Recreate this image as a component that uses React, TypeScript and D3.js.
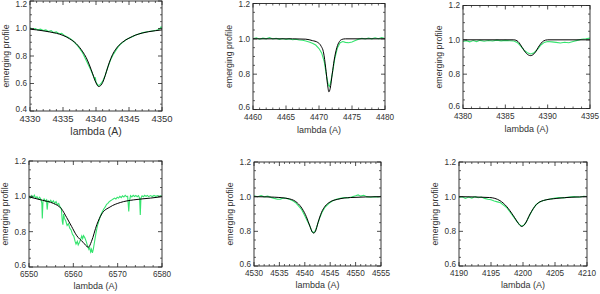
import React from 'react';
import * as d3 from 'd3';

// six line profiles: observed spectrum (green) and model (black)
const hgObs: [number, number][] = [
  [4330, 1.005], [4330.4, 0.995], [4330.8, 1.0], [4331.2, 0.99], [4331.6, 0.995], [4332, 0.985], [4332.4, 0.99],
  [4332.8, 0.978], [4333.2, 0.985], [4333.6, 0.97], [4334, 0.975], [4334.4, 0.962], [4334.8, 0.965], [4335.2, 0.95],
  [4335.6, 0.94], [4336, 0.93], [4336.4, 0.915], [4336.8, 0.895], [4337.2, 0.875], [4337.6, 0.85], [4338, 0.82],
  [4338.4, 0.78], [4338.8, 0.74], [4339.2, 0.7], [4339.6, 0.655], [4339.8, 0.63], [4339.9, 0.645], [4340, 0.61],
  [4340.3, 0.585], [4340.6, 0.59], [4341, 0.615], [4341.4, 0.66], [4341.8, 0.72], [4342.2, 0.77], [4342.6, 0.81],
  [4343, 0.84], [4343.4, 0.87], [4343.8, 0.89], [4344.2, 0.905], [4344.6, 0.92], [4345, 0.93], [4345.5, 0.94],
  [4346, 0.952], [4346.5, 0.96], [4347, 0.968], [4347.5, 0.975], [4348, 0.978], [4348.5, 0.982], [4349, 0.985],
  [4349.4, 0.99], [4349.7, 1.0], [4349.85, 1.012], [4350, 0.995],
];
const hgModel: [number, number][] = [
  [4330, 0.995], [4331, 0.99], [4332, 0.983], [4333, 0.975], [4334, 0.965], [4335, 0.95], [4336, 0.925],
  [4337, 0.89], [4338, 0.83], [4338.5, 0.79], [4339, 0.735], [4339.5, 0.67], [4340, 0.605], [4340.4, 0.578],
  [4340.8, 0.59], [4341.2, 0.63], [4341.6, 0.69], [4342, 0.75], [4342.5, 0.81], [4343, 0.85], [4344, 0.9],
  [4345, 0.93], [4346, 0.952], [4347, 0.967], [4348, 0.977], [4349, 0.984], [4350, 0.99],
];

const he4471Obs: [number, number][] = [
  [4460, 1.0], [4460.5, 1.006], [4461, 0.998], [4461.5, 1.004], [4462, 1.0], [4462.5, 1.007], [4463, 0.999],
  [4463.5, 1.003], [4464, 0.997], [4464.5, 1.002], [4465, 0.996], [4465.5, 1.001], [4466, 0.995], [4466.5, 0.998],
  [4467, 0.993], [4467.5, 0.992], [4468, 0.988], [4468.5, 0.982], [4469, 0.975], [4469.5, 0.965], [4470, 0.945],
  [4470.4, 0.92], [4470.8, 0.87], [4471.1, 0.8], [4471.4, 0.74], [4471.6, 0.73], [4471.8, 0.76], [4472.1, 0.82],
  [4472.4, 0.89], [4472.8, 0.95], [4473.2, 0.978], [4473.6, 0.985], [4474, 0.98], [4474.5, 0.978], [4475, 0.982],
  [4475.5, 0.99], [4476, 0.998], [4476.5, 1.003], [4477, 0.999], [4477.5, 1.005], [4478, 1.0], [4478.5, 1.006],
  [4479, 1.001], [4479.5, 1.007], [4480, 1.002],
];
const he4471Model: [number, number][] = [
  [4460, 1.0], [4466, 1.0], [4468, 0.998], [4469, 0.99], [4469.8, 0.98], [4470.3, 0.96], [4470.7, 0.92],
  [4471, 0.84], [4471.3, 0.74], [4471.5, 0.7], [4471.7, 0.72], [4472, 0.8], [4472.3, 0.88], [4472.7, 0.95],
  [4473.1, 0.985], [4473.5, 0.997], [4474, 1.0], [4480, 1.0],
];

const he4388Obs: [number, number][] = [
  [4380, 0.99], [4380.4, 0.995], [4380.8, 0.988], [4381.2, 0.996], [4381.6, 0.99], [4382, 0.997], [4382.5, 0.992],
  [4383, 0.996], [4383.5, 0.993], [4384, 0.998], [4384.5, 0.994], [4385, 0.997], [4385.5, 0.995], [4386, 0.993],
  [4386.4, 0.985], [4386.8, 0.965], [4387.2, 0.94], [4387.6, 0.925], [4388, 0.918], [4388.4, 0.925], [4388.8, 0.945],
  [4389.2, 0.97], [4389.6, 0.985], [4390, 0.99], [4390.5, 0.988], [4391, 0.985], [4391.5, 0.982], [4392, 0.986],
  [4392.5, 0.983], [4393, 0.99], [4393.5, 0.997], [4394, 1.003], [4394.5, 1.006], [4395, 1.01],
];
const he4388Model: [number, number][] = [
  [4380, 1.0], [4386, 1.0], [4386.5, 0.99], [4387, 0.955], [4387.5, 0.92], [4388, 0.908], [4388.5, 0.925],
  [4389, 0.965], [4389.5, 0.993], [4390, 1.0], [4395, 1.0],
];

const haObs: [number, number][] = [
  [6550, 1.0], [6550.3, 0.99], [6550.6, 1.004], [6550.9, 0.993], [6551.2, 1.006], [6551.5, 0.99], [6551.8, 0.998],
  [6552.1, 0.985], [6552.4, 0.995], [6552.7, 0.982], [6552.9, 0.96], [6553, 0.875], [6553.15, 0.97], [6553.4, 0.985],
  [6553.7, 0.972], [6553.95, 0.98], [6554.1, 0.925], [6554.3, 0.975], [6554.6, 0.968], [6554.9, 0.978],
  [6555.2, 0.965], [6555.5, 0.975], [6555.8, 0.96], [6556.1, 0.97], [6556.4, 0.952], [6556.7, 0.96], [6557, 0.94],
  [6557.3, 0.93], [6557.5, 0.86], [6557.65, 0.84], [6557.8, 0.9], [6558, 0.875], [6558.3, 0.86], [6558.6, 0.835],
  [6558.9, 0.845], [6559.2, 0.82], [6559.5, 0.81], [6559.8, 0.785], [6560.1, 0.775], [6560.4, 0.745],
  [6560.6, 0.73], [6560.9, 0.745], [6561.1, 0.725], [6561.4, 0.74], [6561.7, 0.76], [6561.9, 0.775],
  [6562.1, 0.76], [6562.3, 0.778], [6562.6, 0.765], [6562.9, 0.745], [6563.2, 0.72], [6563.5, 0.7],
  [6563.7, 0.71], [6563.9, 0.685], [6564.1, 0.7], [6564.3, 0.68], [6564.5, 0.7], [6564.7, 0.73], [6564.9, 0.76],
  [6565.1, 0.79], [6565.4, 0.83], [6565.7, 0.855], [6566, 0.88], [6566.3, 0.9], [6566.6, 0.915], [6566.9, 0.93],
  [6567.2, 0.94], [6567.5, 0.955], [6567.8, 0.96], [6568.1, 0.97], [6568.4, 0.975], [6568.7, 0.98],
  [6569, 0.985], [6569.3, 0.99], [6569.6, 0.985], [6569.9, 0.995], [6570.2, 0.99], [6570.5, 1.0],
  [6570.8, 0.993], [6571.1, 1.003], [6571.4, 0.996], [6571.7, 1.006], [6572, 0.998], [6572.25, 1.0],
  [6572.4, 0.95], [6572.5, 0.915], [6572.65, 0.97], [6572.9, 1.004], [6573.2, 0.997], [6573.5, 1.006],
  [6573.8, 0.999], [6574.1, 1.005], [6574.4, 0.998], [6574.7, 1.004], [6574.95, 0.99], [6575.1, 0.895],
  [6575.25, 0.99], [6575.5, 1.003], [6575.8, 0.998], [6576.1, 1.006], [6576.4, 1.0], [6576.7, 1.005],
  [6577, 0.998], [6577.4, 1.004], [6577.8, 0.999], [6578.2, 1.005], [6578.6, 1.0], [6579, 1.004],
  [6579.4, 0.999], [6579.7, 1.003], [6580, 1.0],
];
const haModel: [number, number][] = [
  [6550, 0.997], [6553, 0.978], [6555.5, 0.96], [6557.3, 0.93], [6558.5, 0.88], [6559.6, 0.83], [6560.7, 0.78],
  [6562.2, 0.74], [6563.4, 0.712], [6564.1, 0.745], [6565.3, 0.84], [6566.4, 0.9], [6568.3, 0.94], [6570.6, 0.965],
  [6573.6, 0.98], [6577.4, 0.99], [6580, 0.998],
];

const he4541Obs: [number, number][] = [
  [4530, 1.005], [4530.7, 1.0], [4531.4, 1.006], [4532, 0.999], [4532.7, 1.003], [4533.3, 0.996], [4534, 0.99],
  [4534.6, 0.985], [4535.2, 0.986], [4535.8, 0.992], [4536.4, 0.99], [4537, 0.985], [4537.6, 0.977], [4538.2, 0.965],
  [4538.8, 0.945], [4539.4, 0.925], [4540, 0.89], [4540.5, 0.86], [4541, 0.83], [4541.4, 0.8], [4541.7, 0.792],
  [4542, 0.8], [4542.4, 0.83], [4542.9, 0.875], [4543.4, 0.91], [4544, 0.94], [4544.7, 0.96], [4545.4, 0.975],
  [4546.2, 0.985], [4547, 0.99], [4547.8, 0.995], [4548.5, 0.993], [4549.2, 0.998], [4550, 1.005], [4550.5, 1.01],
  [4551, 1.003], [4551.6, 1.008], [4552.2, 1.0], [4553, 0.997], [4553.8, 1.0], [4554.5, 0.998], [4555, 1.002],
];
const he4541Model: [number, number][] = [
  [4530, 1.0], [4534, 0.997], [4537, 0.987], [4538.5, 0.965], [4539.5, 0.93], [4540.3, 0.885], [4541, 0.83],
  [4541.5, 0.795], [4541.75, 0.79], [4542.1, 0.8], [4542.6, 0.85], [4543.3, 0.91], [4544, 0.945], [4545, 0.97],
  [4546.5, 0.985], [4549, 0.995], [4555, 1.0],
];

const he4200Obs: [number, number][] = [
  [4190, 0.995], [4190.5, 1.0], [4191, 0.99], [4191.5, 0.998], [4192, 0.992], [4192.5, 1.0], [4193, 0.994],
  [4193.5, 0.998], [4194, 0.99], [4194.5, 0.985], [4195, 0.982], [4195.5, 0.975], [4196, 0.97], [4196.5, 0.965],
  [4197, 0.95], [4197.5, 0.935], [4198, 0.91], [4198.5, 0.885], [4199, 0.86], [4199.4, 0.84], [4199.8, 0.83],
  [4200.2, 0.838], [4200.6, 0.86], [4201, 0.89], [4201.5, 0.925], [4202, 0.952], [4202.6, 0.97], [4203.2, 0.978],
  [4204, 0.985], [4204.8, 0.99], [4205.6, 0.995], [4206.4, 0.993], [4207.2, 0.998], [4208, 1.0], [4208.8, 0.997],
  [4209.5, 1.002], [4210, 1.0],
];
const he4200Model: [number, number][] = [
  [4190, 1.0], [4194.8, 0.995], [4196.4, 0.977], [4197.4, 0.945], [4198.5, 0.89], [4199.3, 0.845], [4199.8, 0.828],
  [4200.3, 0.842], [4201.1, 0.9], [4202.1, 0.955], [4203.2, 0.978], [4205.3, 0.99], [4210, 1.0],
];

const xDomains: [number, number][] = [[4330, 4350], [4460, 4480], [4380, 4395], [6550, 6580], [4530, 4555], [4190, 4210]];
const yDomains: [number, number][] = [[0.4, 1.2], [0.6, 1.2], [0.6, 1.2], [0.6, 1.2], [0.6, 1.2], [0.6, 1.2]];
const xTickSteps = [5, 5, 5, 10, 5, 5];
const xMinorSteps = [1, 1, 1, 2, 1, 1];
const yTickValues = [[0.4, 0.6, 0.8, 1.0, 1.2], [0.6, 0.8, 1.0, 1.2], [0.6, 0.8, 1.0, 1.2], [0.6, 0.8, 1.0, 1.2], [0.6, 0.8, 1.0, 1.2], [0.6, 0.8, 1.0, 1.2]];
const observed = [hgObs, he4471Obs, he4388Obs, haObs, he4541Obs, he4200Obs];
const models = [hgModel, he4471Model, he4388Model, haModel, he4541Model, he4200Model];

// frame boxes [left, top, right, bottom]
const frames = [
  [30, 1, 162, 111],
  [253, 3.5, 385, 109.5],
  [463, 5.5, 590, 108.5],
  [29, 161, 162, 267],
  [254, 162, 381, 266],
  [459, 162, 587, 266],
];

const GREEN = '#35e46e';
const TEXT = '#333';
const FONT = '"Liberation Sans", Arial, sans-serif';

function Panel({ i }: { i: number }) {
  const [l, t, r, b] = frames[i];
  const x = d3.scaleLinear().domain(xDomains[i]).range([l, r]);
  const y = d3.scaleLinear().domain(yDomains[i]).range([b, t]);
  const line = d3.line<[number, number]>().x(d => x(d[0])).y(d => y(d[1]));
  const smooth = d3.line<[number, number]>().x(d => x(d[0])).y(d => y(d[1])).curve(d3.curveMonotoneX);

  const [x0, x1] = xDomains[i];
  const xMajor = d3.range(x0, x1 + 0.001, xTickSteps[i]);
  const xMinor = d3.range(x0, x1 + 0.001, xMinorSteps[i]).filter(v => !xMajor.includes(v));
  const [y0, y1] = yDomains[i];
  const yMajor = yTickValues[i];
  const yMinor = d3.range(Math.round(y0 * 20), Math.round(y1 * 20) + 1).map(k => k / 20)
    .filter(v => !yMajor.some(m => Math.abs(m - v) < 1e-6));

  const big = i === 0;
  const xTickFont = big ? 9.5 : 8.2;
  const titleFont = big ? 10.5 : 9;
  const labelOff = i < 3 ? 10.5 : 9.5;
  const titleOff = i < 3 ? 23.5 : 21.5;

  return (
    <g>
      <defs>
        <clipPath id={'clip' + i}>
          <rect x={l} y={t} width={r - l} height={b - t} />
        </clipPath>
      </defs>
      <g clipPath={`url(#clip${i})`}>
        <path d={line(observed[i]) || ''} fill="none" stroke={GREEN} strokeWidth={1.1} />
        <path d={smooth(models[i]) || ''} fill="none" stroke="#000" strokeWidth={1} />
      </g>
      <rect x={l} y={t} width={r - l} height={b - t} fill="none" stroke="#222" strokeWidth={0.9} />
      {xMajor.map(v => (
        <g key={'xM' + v}>
          <line x1={x(v)} x2={x(v)} y1={b} y2={b - 4} stroke="#222" strokeWidth={0.8} />
          <line x1={x(v)} x2={x(v)} y1={t} y2={t + 4} stroke="#222" strokeWidth={0.8} />
          <text x={x(v)} y={b + labelOff} fontSize={xTickFont} fill={TEXT} textAnchor="middle" fontFamily={FONT}>{v}</text>
        </g>
      ))}
      {xMinor.map(v => (
        <g key={'xm' + v}>
          <line x1={x(v)} x2={x(v)} y1={b} y2={b - 2} stroke="#222" strokeWidth={0.7} />
          <line x1={x(v)} x2={x(v)} y1={t} y2={t + 2} stroke="#222" strokeWidth={0.7} />
        </g>
      ))}
      {yMajor.map(v => (
        <g key={'yM' + v}>
          <line x1={l} x2={l + 4} y1={y(v)} y2={y(v)} stroke="#222" strokeWidth={0.8} />
          <line x1={r} x2={r - 4} y1={y(v)} y2={y(v)} stroke="#222" strokeWidth={0.8} />
          <text x={l - 3} y={Math.min(Math.max(y(v), 4.5), b - 2)} dy="0.35em" fontSize={8.2} fill={TEXT}
            textAnchor="end" fontFamily={FONT}>{v.toFixed(1)}</text>
        </g>
      ))}
      {yMinor.map(v => (
        <g key={'ym' + v}>
          <line x1={l} x2={l + 2} y1={y(v)} y2={y(v)} stroke="#222" strokeWidth={0.7} />
          <line x1={r} x2={r - 2} y1={y(v)} y2={y(v)} stroke="#222" strokeWidth={0.7} />
        </g>
      ))}
      <text x={(l + r) / 2} y={b + titleOff} fontSize={titleFont} fill={TEXT} textAnchor="middle" fontFamily={FONT}>lambda  (A)</text>
      <text transform={`translate(${l - 24},${(t + b) / 2}) rotate(-90)`} dy="0.35em" fontSize={8.8} fill={TEXT}
        textAnchor="middle" fontFamily={FONT}>emerging profile</text>
    </g>
  );
}

export default function App() {
  return (
    <svg width={600} height={294} style={{ position: 'absolute', left: 0, top: 0, background: '#fff' }}>
      {frames.map((_, i) => <Panel key={i} i={i} />)}
    </svg>
  );
}
